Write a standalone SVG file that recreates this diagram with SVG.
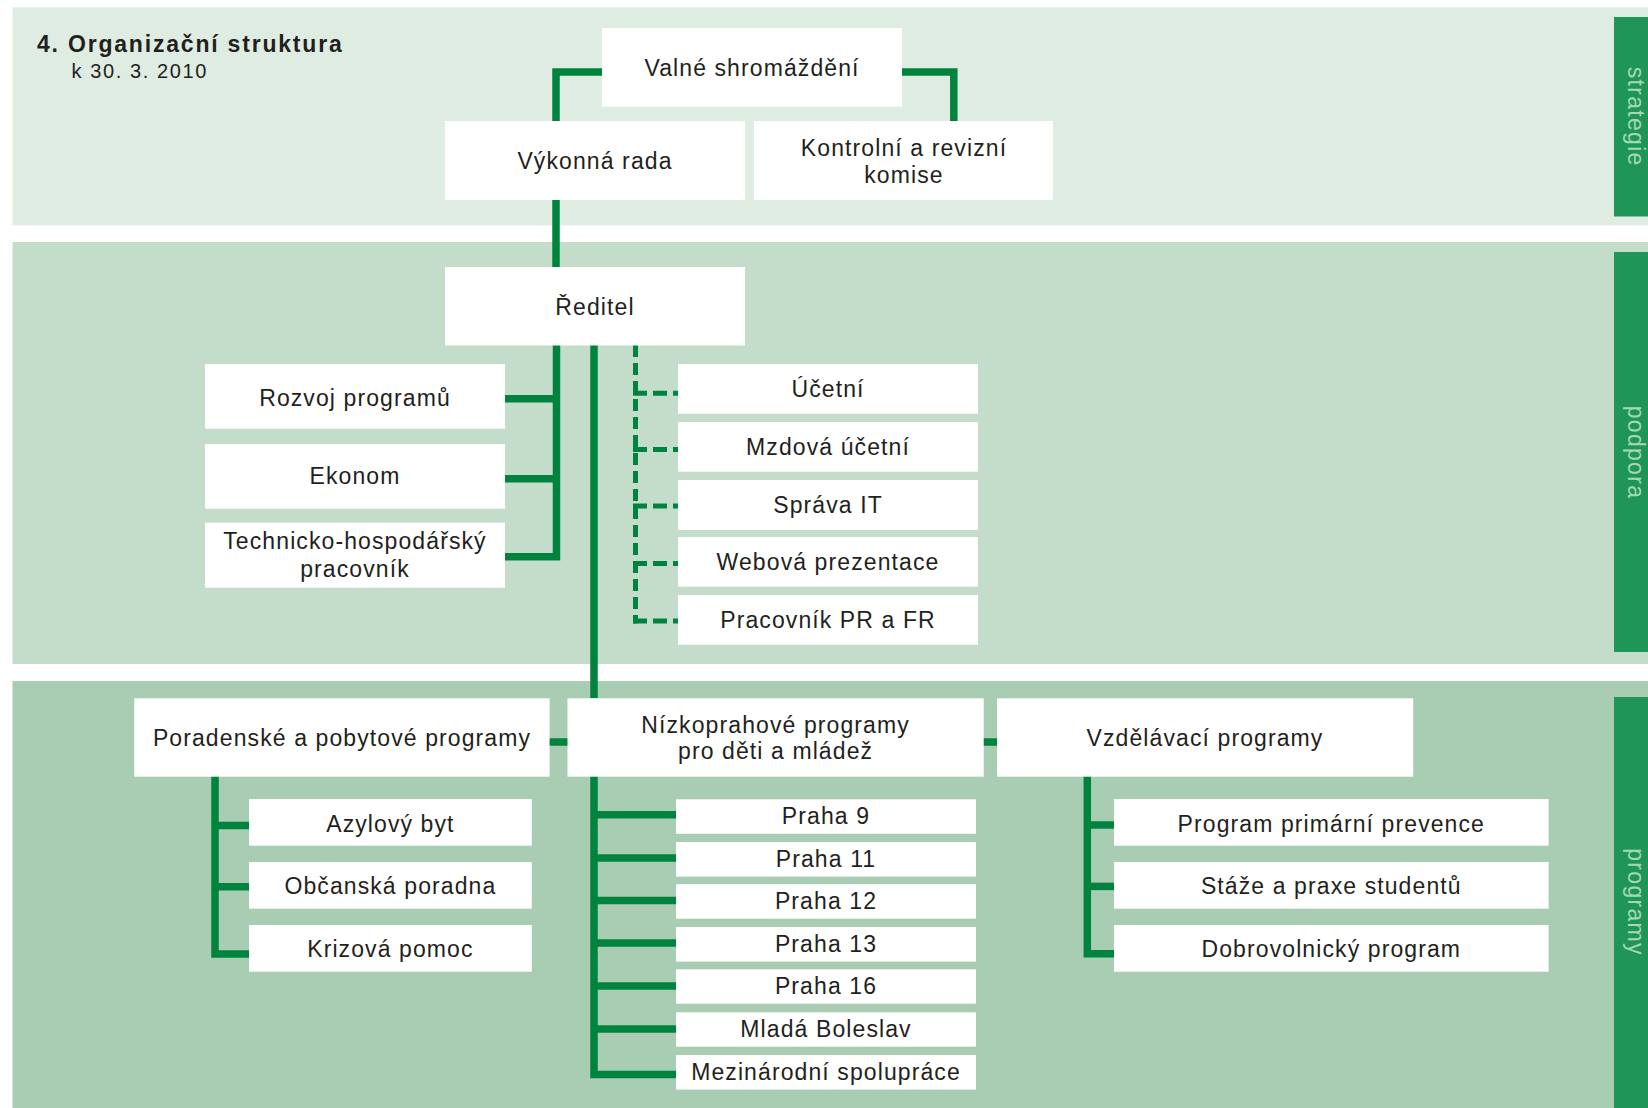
<svg xmlns="http://www.w3.org/2000/svg" width="1648" height="1108" viewBox="0 0 1648 1108">
<style>
.box{fill:#ffffff}
.t{font-family:"Liberation Sans",Arial,sans-serif;font-size:23px;letter-spacing:1.1px;fill:#231f20;text-anchor:middle}
.tab{fill:#1f9657}
.tabt{font-family:"Liberation Sans",Arial,sans-serif;font-size:23px;letter-spacing:1.3px;fill:#a4d8b3;text-anchor:middle}
.ln{fill:none;stroke:#00843d;stroke-width:7.5;stroke-linejoin:miter;stroke-linecap:butt}
.dv{fill:none;stroke:#00843d;stroke-width:5;stroke-dasharray:12 6}
.dh{fill:none;stroke:#00843d;stroke-width:5;stroke-dasharray:14 6}
</style>
<rect width="1648" height="1108" fill="#ffffff"/>
<g id="bands">
<rect x="12.5" y="7.4" width="1636" height="218" fill="#dfece2"/>
<rect x="12.5" y="242" width="1636" height="422" fill="#c4ddcb"/>
<rect x="12.5" y="681" width="1636" height="427" fill="#a9cdb3"/>
<rect class="tab" x="1614" y="17" width="34" height="199.5"/>
<rect class="tab" x="1614" y="252" width="34" height="400"/>
<rect class="tab" x="1614" y="697" width="34" height="411"/>
<text class="tabt" transform="translate(1628,116.7) rotate(90)" x="0" y="0">strategie</text>
<text class="tabt" transform="translate(1628,452.5) rotate(90)" x="0" y="0">podpora</text>
<text class="tabt" transform="translate(1628,902) rotate(90)" x="0" y="0">programy</text>
</g>
<g id="title">
<text x="37" y="52.3" style="font-family:'Liberation Sans',Arial,sans-serif;font-size:23px;font-weight:bold;letter-spacing:1.8px;fill:#231f20">4. Organizační struktura</text>
<text x="71.5" y="78.3" style="font-family:'Liberation Sans',Arial,sans-serif;font-size:20px;letter-spacing:1.6px;fill:#231f20">k 30. 3. 2010</text>
</g>
<g id="connectors">
<path class="ln" d="M602 72 H556 V121"/>
<path class="ln" d="M902 72 H953.8 V121"/>
<path class="ln" d="M556 200 V267"/>
<path class="ln" d="M556.5 345 V556.7 H505"/>
<path class="ln" d="M505 398.7 H556.5"/>
<path class="ln" d="M505 478.7 H556.5"/>
<path class="ln" d="M594 345 V698"/>
<path class="dv" d="M635.5 345 V623.5"/>
<path class="dh" d="M633 393.3 H678"/>
<path class="dh" d="M633 449.5 H678"/>
<path class="dh" d="M633 506 H678"/>
<path class="dh" d="M633 563.5 H678"/>
<path class="dh" d="M633 621 H678"/>
<path class="ln" d="M549 742 H568"/>
<path class="ln" d="M983 742 H998"/>
<path class="ln" d="M215 776 V954 H249"/>
<path class="ln" d="M215 825.4 H249"/>
<path class="ln" d="M215 886.7 H249"/>
<path class="ln" d="M1087.3 776 V953.7 H1114"/>
<path class="ln" d="M1087.3 825 H1114"/>
<path class="ln" d="M1087.3 886.4 H1114"/>
<path class="ln" d="M594 776 V1074.5 H676"/>
<path class="ln" d="M594 814.7 H676"/>
<path class="ln" d="M594 858 H676"/>
<path class="ln" d="M594 900.5 H676"/>
<path class="ln" d="M594 943 H676"/>
<path class="ln" d="M594 986 H676"/>
<path class="ln" d="M594 1029 H676"/>
</g>
<g id="valne"><rect class="box" x="602" y="28" width="300" height="78.7"/><text class="t" x="752" y="76">Valné shromáždění</text></g>
<g id="vykonna"><rect class="box" x="445" y="121" width="300" height="79"/><text class="t" x="595" y="169">Výkonná rada</text></g>
<g id="kontrolni"><rect class="box" x="754" y="121" width="299" height="79"/><text class="t" x="904" y="156">Kontrolní a revizní</text><text class="t" x="904" y="182.7">komise</text></g>
<g id="reditel"><rect class="box" x="445" y="267" width="300" height="78.5"/><text class="t" x="595" y="315">Ředitel</text></g>
<g id="rozvoj"><rect class="box" x="205" y="364" width="300" height="64.7"/><text class="t" x="355" y="405.5">Rozvoj programů</text></g>
<g id="ekonom"><rect class="box" x="205" y="444" width="300" height="64.7"/><text class="t" x="355" y="484.3">Ekonom</text></g>
<g id="technicko"><rect class="box" x="205" y="522.7" width="300" height="65"/><text class="t" x="355" y="549.3">Technicko-hospodářský</text><text class="t" x="355" y="577">pracovník</text></g>
<g id="ucetni"><rect class="box" x="678" y="364" width="300" height="49.7"/><text class="t" x="828" y="397.3">Účetní</text></g>
<g id="mzdova"><rect class="box" x="678" y="422" width="300" height="49.7"/><text class="t" x="828" y="455">Mzdová účetní</text></g>
<g id="sprava"><rect class="box" x="678" y="480" width="300" height="50"/><text class="t" x="828" y="513">Správa IT</text></g>
<g id="webova"><rect class="box" x="678" y="537" width="300" height="49.7"/><text class="t" x="828" y="570">Webová prezentace</text></g>
<g id="pracovnik"><rect class="box" x="678" y="595" width="300" height="49.7"/><text class="t" x="828" y="628">Pracovník PR a FR</text></g>
<g id="poradenske"><rect class="box" x="134.3" y="698.3" width="415.3" height="78.4"/><text class="t" x="342" y="746">Poradenské a pobytové programy</text></g>
<g id="nizkoprahove"><rect class="box" x="567.5" y="698.3" width="416.2" height="78.4"/><text class="t" x="775.6" y="732.7">Nízkoprahové programy</text><text class="t" x="775.6" y="759">pro děti a mládež</text></g>
<g id="vzdelavaci"><rect class="box" x="997" y="698.3" width="416.2" height="78.4"/><text class="t" x="1205" y="746">Vzdělávací programy</text></g>
<g id="azylovy"><rect class="box" x="249" y="799" width="282.8" height="46.7"/><text class="t" x="390.4" y="831.5">Azylový byt</text></g>
<g id="obcanska"><rect class="box" x="249" y="862" width="282.8" height="46.7"/><text class="t" x="390.4" y="894">Občanská poradna</text></g>
<g id="krizova"><rect class="box" x="249" y="925" width="282.8" height="46.7"/><text class="t" x="390.4" y="957">Krizová pomoc</text></g>
<g id="praha9"><rect class="box" x="676" y="799.3" width="300" height="34.5"/><text class="t" x="826" y="824.3">Praha 9</text></g>
<g id="praha11"><rect class="box" x="676" y="842" width="300" height="34.6"/><text class="t" x="826" y="867.2">Praha 11</text></g>
<g id="praha12"><rect class="box" x="676" y="884.2" width="300" height="34.5"/><text class="t" x="826" y="909.3">Praha 12</text></g>
<g id="praha13"><rect class="box" x="676" y="927" width="300" height="34.6"/><text class="t" x="826" y="952.2">Praha 13</text></g>
<g id="praha16"><rect class="box" x="676" y="969.3" width="300" height="34.4"/><text class="t" x="826" y="994.4">Praha 16</text></g>
<g id="mlada"><rect class="box" x="676" y="1012.3" width="300" height="34.4"/><text class="t" x="826" y="1037.4">Mladá Boleslav</text></g>
<g id="mezinarodni"><rect class="box" x="676" y="1055" width="300" height="34.6"/><text class="t" x="826" y="1080.2">Mezinárodní spolupráce</text></g>
<g id="primarni"><rect class="box" x="1114" y="799" width="434.6" height="46.7"/><text class="t" x="1331.3" y="831.5">Program primární prevence</text></g>
<g id="staze"><rect class="box" x="1114" y="862" width="434.6" height="46.7"/><text class="t" x="1331.3" y="894">Stáže a praxe studentů</text></g>
<g id="dobrovolnicky"><rect class="box" x="1114" y="925" width="434.6" height="46.7"/><text class="t" x="1331.3" y="957">Dobrovolnický program</text></g>
</svg>
